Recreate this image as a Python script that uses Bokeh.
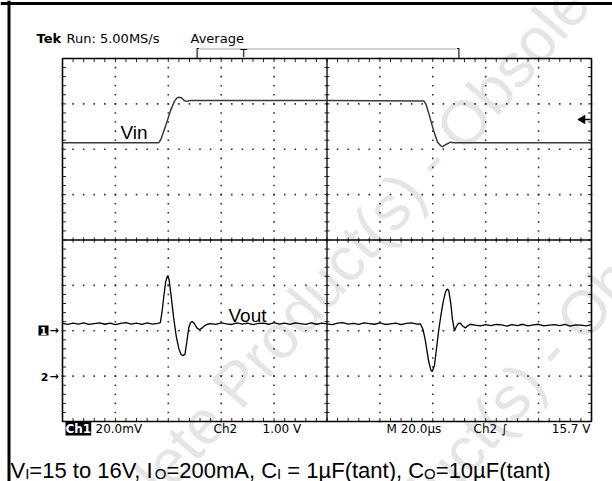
import math
from bokeh.plotting import figure
from bokeh.models import Range1d, Label, Span
from bokeh.embed import file_html
from bokeh.resources import INLINE

# ---------------- data ----------------
# Ch2: Vin in volts (1.00 V/div), time in microseconds (M 20.0us/div, 10 div)
vin_t = [0, 36.4, 37.2, 39.0, 40.8, 42.3, 43.2, 44.0, 45.0, 46.0, 47.1, 48.2,
         100, 136.6, 137.4, 138.5, 140.3, 141.8, 143.0, 143.8, 145.0, 146.7, 148.0, 200]
vin_v = [15.19, 15.19, 15.26, 15.56, 15.89, 16.10, 16.17, 16.19, 16.18, 16.12, 16.10, 16.12,
         16.12, 16.11, 16.04, 15.83, 15.46, 15.20, 15.12, 15.10, 15.15, 15.20, 15.19, 15.19]

# Ch1: Vout deviation in mV (20.0 mV/div)
vout_t = [0, 2, 4, 6, 8, 10, 12, 14, 16, 18, 20, 22, 24, 26, 28, 30, 32, 34, 36,
          37.0, 37.6, 38.3, 39.0, 39.7, 40.3, 41.0, 42.0, 43.0, 44.0, 44.8, 45.5, 46.3,
          47.0, 47.75, 48.4, 49.0, 49.8, 50.8, 51.8, 52.8, 53.8, 54.8,
          56, 58, 60, 62, 64, 66, 68, 70, 72, 74, 76, 78, 80, 82, 84, 86, 88, 90, 92, 94,
          96, 98, 100, 102, 104, 106, 108, 110, 112, 114, 116, 118, 120, 122, 124, 126,
          128, 130, 132, 134,
          135.3, 136.3, 137.2, 138.4, 139.3, 139.8, 140.6, 141.4, 142.2, 143.1, 144.0,
          144.8, 145.4, 146.0, 146.8, 147.4, 148.2, 149.0, 149.7, 150.4, 151.3, 152.3,
          153.2, 154.2,
          156, 158, 160, 162, 164, 166, 168, 170, 172, 174, 176, 178, 180, 182, 184, 186,
          188, 190, 192, 194, 196, 198, 200]
vout_mv = [0.2, -0.3, 0.3, -0.1, 0.4, -0.3, 0.1, 0.4, -0.2, 0.3, -0.4, 0.2, 0.5, -0.1,
           0.3, -0.3, 0.4, -0.1, 0.2,
           0.5, 5, 12, 18.5, 21.2, 19.5, 13, 2.8, -5.5, -11, -13.5, -14.0, -13.5,
           -8, -1.6, 0.5, 1.0, 0.2, -1.8, -2.6, -1.8, -0.8, -0.2,
           0.1, -0.3, 0.4, 0.0, -0.3, 0.4, -0.1, 0.3, -0.4, 0.2, 0.3, -0.2, 0.5, -0.1,
           0.3, -0.3, 0.4, 0.1, -0.3, 0.4, -0.2, 0.3, 0.0, -0.4, 0.3, 0.5, -0.1, 0.2,
           -0.3, 0.4, 0.1, -0.2, 0.4, -0.3, 0.0, 0.3, -0.4, 0.2, 0.4, -0.1,
           0.0, -2.5, -7.5, -16.3, -20.5, -21.0, -18.5, -11, -3.1, 4, 10.1,
           14, 15.3, 14.8, 9, 2.2, -3.1, -1, 0.2, 0.3, -1.0, -1.8, -0.9, -0.2,
           -0.6, -0.9, -0.4, -0.8, -0.3, -0.5, -1.0, -0.4, -0.8, -0.2, -0.9, -0.5,
           -0.2, -0.9, -0.6, -0.4, -0.8, -0.3, -1.0, -0.5, -0.6, -0.9, -0.4]

trigger_level = 15.7   # V, Ch2 trigger

# ---------------- geometry (page pixels -> data units) ----------------
W, H = 612, 481
GX0, GX1, GY0, GY1 = 62.0, 591.0, 58.0, 421.0      # graticule box on the page
NDX, NDY = 10, 8
US_PER_DIV = 20.0
T_SPAN = NDX * US_PER_DIV


def X(px):
    return (px - GX0) * T_SPAN / (GX1 - GX0)


def Y(py):
    return (GY1 - py) * NDY / (GY1 - GY0)


PX_PER_DIV_Y = (GY1 - GY0) / NDY
VIN_REF_PY, VIN_V_PER_DIV = 119.0, 1.0           # trigger level sits here
VOUT_REF_PY, VOUT_MV_PER_DIV = 323.3, 20.0

p = figure(width=W, height=H, output_backend="svg", toolbar_location=None,
           x_range=Range1d(X(0), X(W)), y_range=Range1d(Y(H), Y(0)),
           min_border=0, outline_line_color=None,
           x_axis_type=None, y_axis_type=None)
p.grid.visible = False
p.background_fill_color = "white"

p.extra_y_ranges = {
    "vin": Range1d(trigger_level - (H - VIN_REF_PY) / PX_PER_DIV_Y * VIN_V_PER_DIV,
                   trigger_level + VIN_REF_PY / PX_PER_DIV_Y * VIN_V_PER_DIV),
    "vout": Range1d(-(H - VOUT_REF_PY) / PX_PER_DIV_Y * VOUT_MV_PER_DIV,
                    VOUT_REF_PY / PX_PER_DIV_Y * VOUT_MV_PER_DIV),
}

# ---------------- watermark (underlay) ----------------
wm_ang = math.radians(49)
for (sx, sy) in [(76, 620), (196, 810)]:
    p.add_layout(Label(x=X(sx), y=Y(sy), text="Obsolete Product(s) - Obsolete Product(s)",
                       angle=wm_ang, text_font="Liberation Sans", text_font_size="62px",
                       text_color="#e5e5e5", level="underlay"))

# ---------------- outer frame ----------------
p.add_layout(Span(location=X(8.5), dimension="height", line_color="black", line_width=3))
p.add_layout(Span(location=Y(3.0), dimension="width", line_color="black", line_width=3))

# ---------------- graticule ----------------
minor_x = [i * US_PER_DIV / 5 for i in range(NDX * 5 + 1)]
minor_y = [i * 0.2 for i in range(NDY * 5 + 1)]
dot_x, dot_y = [], []
for gy in [1, 2, 3, 5, 6, 7]:
    dot_x += minor_x
    dot_y += [gy] * len(minor_x)
for gx in [20, 40, 60, 80, 120, 140, 160, 180]:
    dot_x += [gx] * len(minor_y)
    dot_y += minor_y
p.scatter(dot_x, dot_y, marker="square", size=1.6, fill_color="#333333", line_color=None)

tx = 2.5 * T_SPAN / (GX1 - GX0)      # 2.5 px in x data units
ty = 2.5 / PX_PER_DIV_Y              # 2.5 px in y data units
bx, by = 3.5 * T_SPAN / (GX1 - GX0), 3.5 / PX_PER_DIV_Y
x0s, y0s, x1s, y1s = [], [], [], []
for mx in minor_x:
    x0s += [mx, mx, mx]
    y0s += [NDY / 2 - ty, NDY, 0]
    x1s += [mx, mx, mx]
    y1s += [NDY / 2 + ty, NDY - by, by]
for my in minor_y:
    x0s += [T_SPAN / 2 - tx, 0, T_SPAN]
    y0s += [my, my, my]
    x1s += [T_SPAN / 2 + tx, bx, T_SPAN - bx]
    y1s += [my, my, my]
p.segment(x0s, y0s, x1s, y1s, line_color="#222222", line_width=1)
p.segment([0, T_SPAN / 2], [NDY / 2, 0], [T_SPAN, T_SPAN / 2], [NDY / 2, NDY],
          line_color="black", line_width=1.3)
p.quad(left=[0], right=[T_SPAN], bottom=[0], top=[NDY], fill_color=None,
       line_color="black", line_width=1.6)

# ---------------- waveforms ----------------
p.line(vin_t, vin_v, y_range_name="vin", line_color="#3a3a3a", line_width=1.5)
p.line(vout_t, vout_mv, y_range_name="vout", line_color="black", line_width=1.3)

# trigger-level arrow on the right
p.scatter([X(582)], [trigger_level], y_range_name="vin", marker="triangle",
          angle=math.pi / 2, size=8, fill_color="black", line_color="black")
p.segment([X(582)], [trigger_level], [X(590)], [trigger_level], y_range_name="vin",
          line_color="black", line_width=1.5)


# ---------------- texts ----------------
def lab(text, px, py, size=13, font="DejaVu Sans", style="normal", color="black",
        align="left", baseline="alphabetic", bg=None):
    kw = {}
    if bg is not None:
        kw["background_fill_color"] = bg
    p.add_layout(Label(x=X(px), y=Y(py), text=text, text_font=font,
                       text_font_size=f"{size}px", text_font_style=style,
                       text_color=color, text_align=align, text_baseline=baseline, **kw))


# header
lab("Tek", 36, 38, size=13, style="bold")
lab("Run: 5.00MS/s", 66, 38, size=13)
lab("Average", 190, 38, size=13)
lab("[", 195, 53, size=12)
lab("]", 460, 53, size=12, align="right")
lab("T", 243, 53, size=11, align="center")
p.line([X(200), X(455)], [Y(48.5), Y(48.5)], line_color="#444444", line_width=1,
       line_dash="1 1")

# channel markers
p.quad(left=[X(38)], right=[X(48)], bottom=[Y(335)], top=[Y(325)],
       fill_color="black", line_color=None)
lab("1", 43, 330.5, size=10, style="bold", color="white", align="center",
    baseline="middle")
lab("\u2192", 49, 330, size=11, style="bold", baseline="middle")
lab("2", 44, 376, size=11, style="bold", align="center", baseline="middle")
lab("\u2192", 49, 376, size=11, style="bold", baseline="middle")

# labels on traces
lab("Vin", 120, 132, size=19, font="Liberation Sans")
lab("Vout", 228, 315, size=19, font="Liberation Sans")

# bottom status row
lab("Ch1", 65, 428, size=12, style="bold", color="white", bg="black")
lab("20.0mV", 95, 428, size=12)
lab("Ch2", 213, 428, size=12)
lab("1.00 V", 262, 428, size=12)
lab("M 20.0\u00b5s", 386, 428, size=12)
lab("Ch2 \u222b", 473, 428, size=12)
lab("15.7 V", 590, 428, size=12, align="right")

# caption with subscripts (leading spaces as no-break spaces so SVG keeps them)
CF, CS = 22, 15
cap_base, sub_base = 470, 473
cap_parts = [
    ("V", False), ("I", True), ("=15 to 16V, I", False), ("O", True),
    ("=200mA, C", False), ("I", True), ("\u00a0= 1\u00b5F(tant), C", False), ("O", True),
    ("=10\u00b5F(tant)", False),
]
# Arial/Liberation Sans advance widths (per 1000 em)
AW = {"V": 667, "I": 278, "O": 778, "=": 584, "1": 556, "5": 556, "6": 556, "2": 556,
      "0": 556, " ": 278, "\u00a0": 278, "t": 278, "o": 556, ",": 278, "m": 833,
      "A": 667, "C": 722, "\u00b5": 576, "F": 611, "(": 333, ")": 333, "a": 556, "n": 556}
cx = 10.0
for txt, sub in cap_parts:
    size = CS if sub else CF
    lab(txt, cx, sub_base if sub else cap_base, size=size, font="Liberation Sans")
    cx += sum(AW.get(ch, 556) for ch in txt) * size / 1000.0

open("out.html", "w").write(file_html(p, INLINE))
